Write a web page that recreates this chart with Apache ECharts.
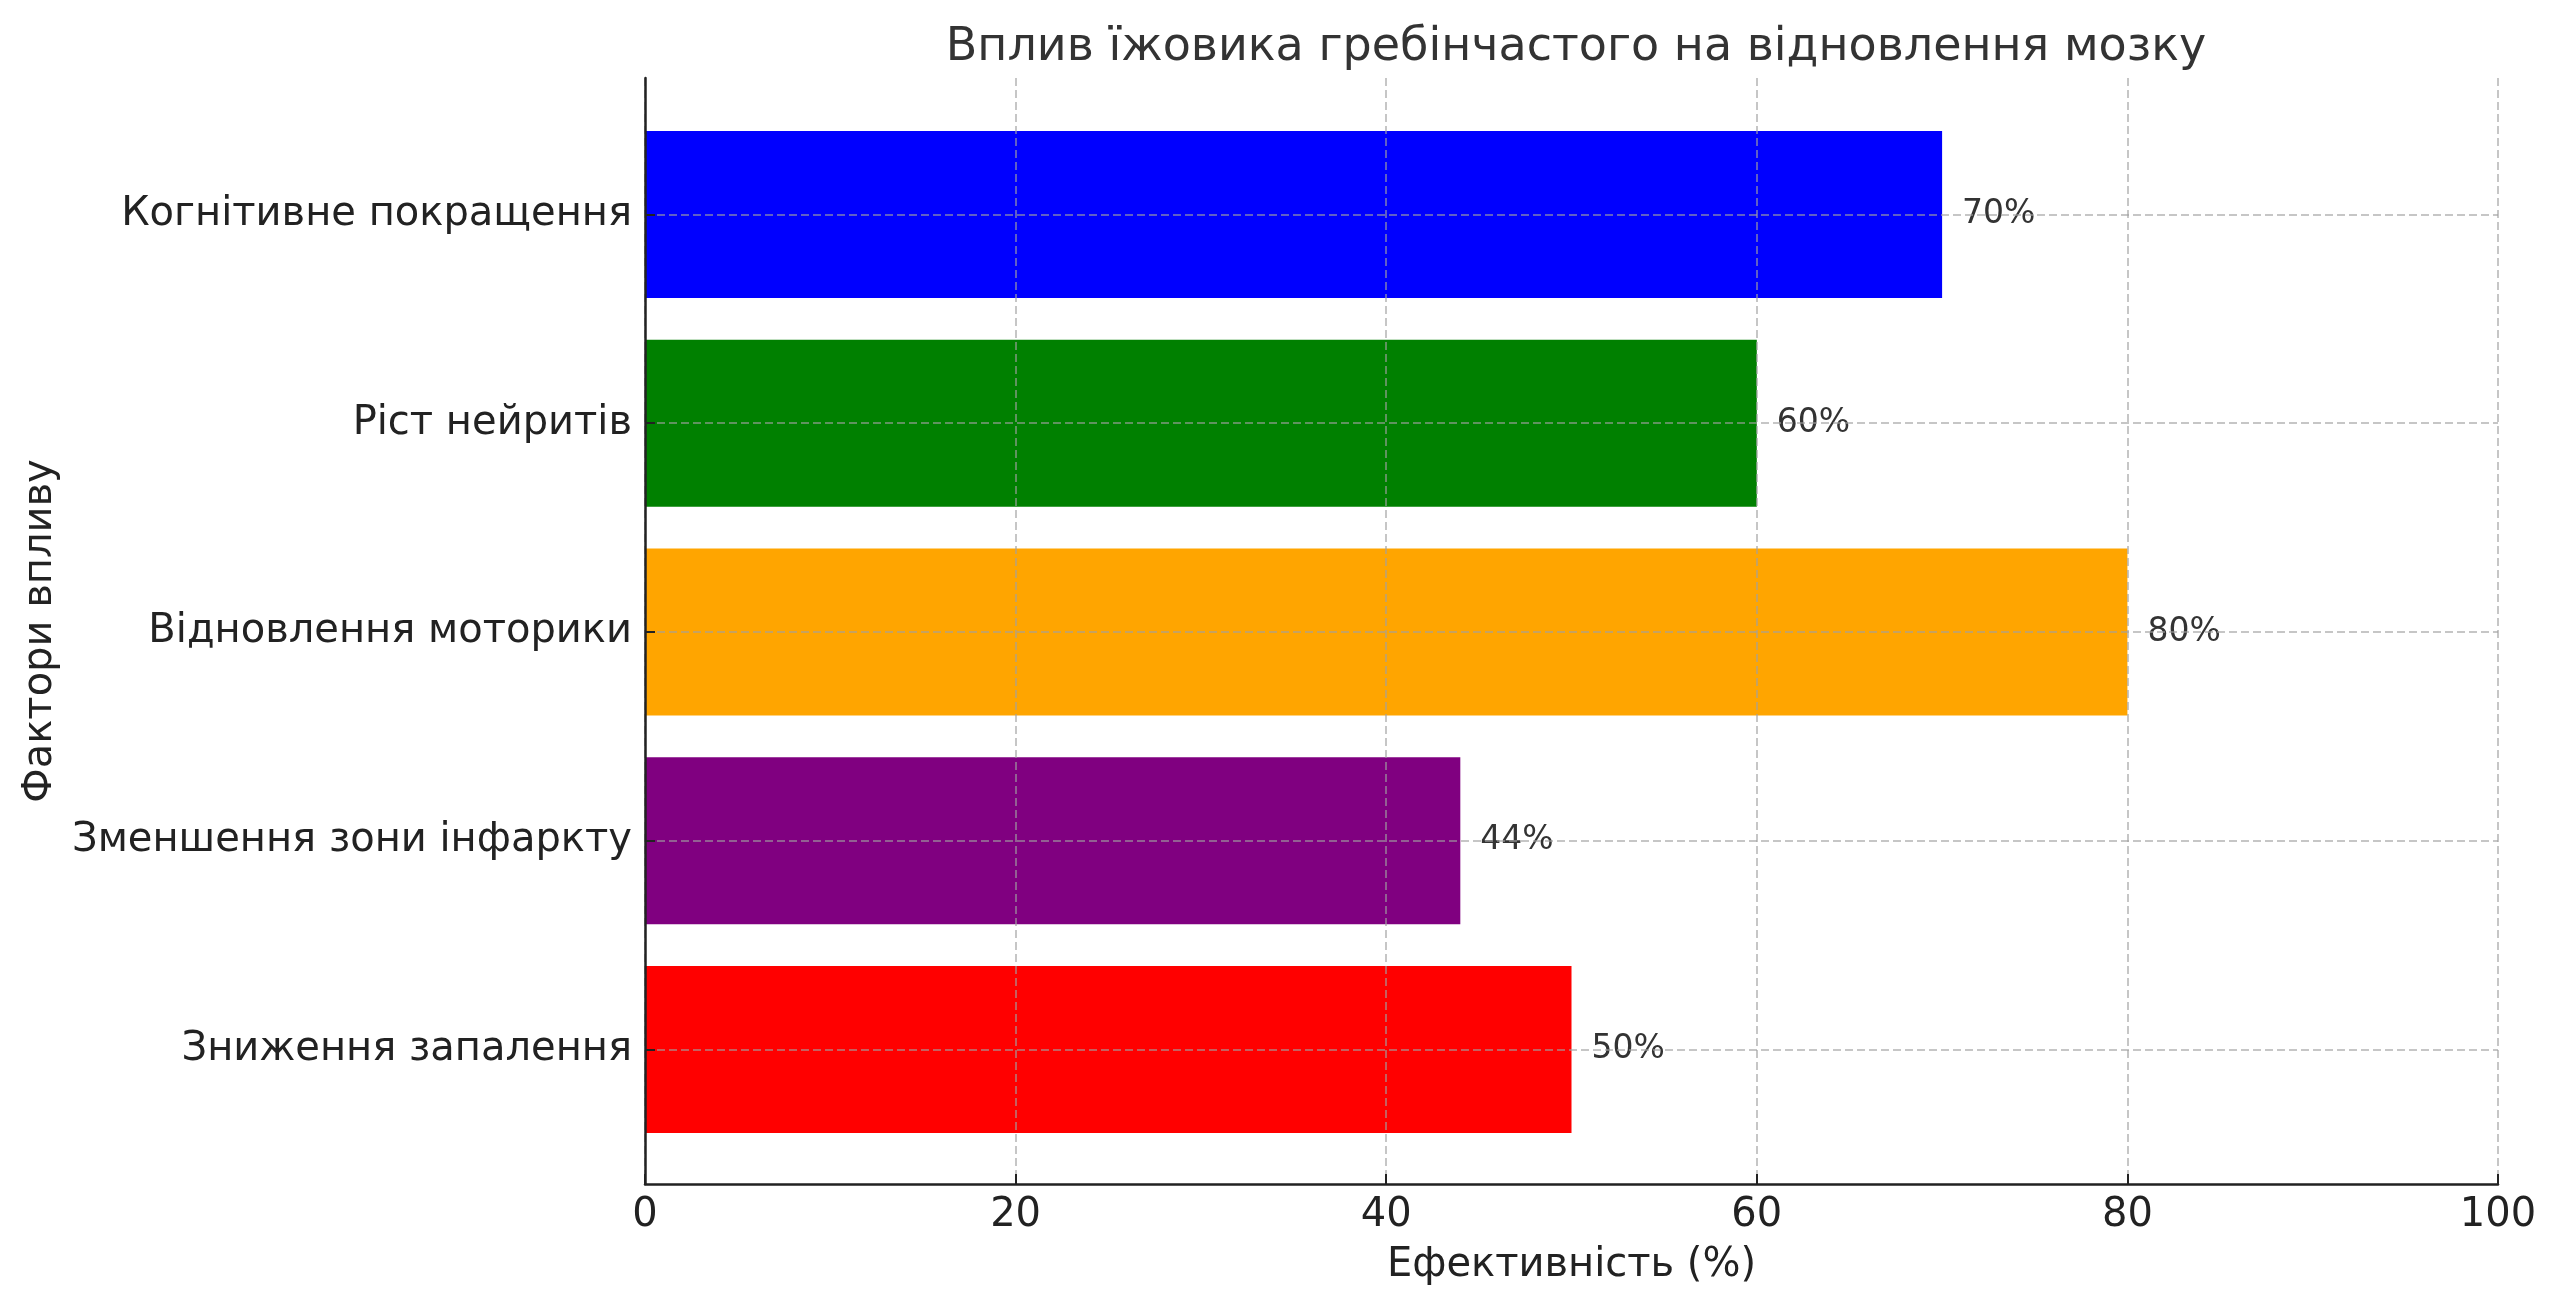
<!DOCTYPE html>
<html>
<head>
<meta charset="utf-8">
<script src="https://cdn.jsdelivr.net/npm/echarts@6/dist/echarts.min.js"></script>
<style>
  html, body { margin: 0; padding: 0; background: #fff; }
  #chart { width: 2560px; height: 1310px; }
</style>
</head>
<body>
<div id="chart"></div>
<script>
// дані (знизу вгору, як у barh)
const factors = ["Зниження запалення", "Зменшення зони інфаркту", "Відновлення моторики", "Ріст нейритів", "Когнітивне покращення"];
const effect = [50, 44, 80, 60, 70];
const barColors = ["#ff0000", "#800080", "#ffa500", "#008000", "#0000ff"];
const xTicks = [0, 20, 40, 60, 80, 100];

const font = "DejaVu Sans";
const gridLine = { show: true, lineStyle: { color: "rgba(160,160,160,0.6)", width: 2, type: [8, 4] } };

const chart = echarts.init(document.getElementById("chart"));
chart.setOption({
  animation: false,
  backgroundColor: "#fff",
  title: {
    text: "Вплив їжовика гребінчастого на відновлення мозку",
    left: 1571,
    top: 20,
    textAlign: "center",
    textStyle: { fontFamily: font, fontSize: 46, fontWeight: "normal", color: "#333" },
  },
  grid: [
    // рамка осей
    { left: 645, top: 78, width: 1853, height: 1106 },
    // смуги
    { left: 645, top: 110, width: 1853, height: 1044 },
  ],
  xAxis: [
    {
      gridIndex: 0,
      type: "value",
      min: xTicks[0],
      max: xTicks[xTicks.length - 1],
      interval: 20,
      z: 10,
      name: "Ефективність (%)",
      nameLocation: "middle",
      nameGap: 62,
      nameTextStyle: { fontFamily: font, fontSize: 40, color: "#222" },
      axisLine: { show: true, lineStyle: { color: "#222", width: 2.5 } },
      axisTick: { show: true, inside: true, length: 10, lineStyle: { color: "#222", width: 2 } },
      axisLabel: { fontFamily: font, fontSize: 40, color: "#222", margin: 12 },
      splitLine: gridLine,
    },
    {
      gridIndex: 1,
      type: "value",
      min: 0,
      max: 100,
      show: false,
    },
  ],
  yAxis: [
    {
      gridIndex: 0,
      type: "value",
      min: 0,
      max: 1,
      z: 10,
      name: "Фактори впливу",
      nameLocation: "middle",
      nameRotate: 90,
      nameGap: 584,
      nameTextStyle: { fontFamily: font, fontSize: 40, color: "#222" },
      axisLine: { show: true, lineStyle: { color: "#222", width: 2.5 } },
      axisTick: { show: false },
      axisLabel: { show: false },
      splitLine: { show: false },
    },
    {
      gridIndex: 1,
      type: "category",
      data: factors,
      z: 10,
      axisLine: { show: false },
      axisTick: { show: true, inside: true, length: 10, alignWithLabel: true, lineStyle: { color: "#222", width: 2 } },
      axisLabel: { fontFamily: font, fontSize: 40, color: "#222", margin: 13 },
      splitLine: Object.assign({ alignWithLabel: true }, gridLine),
    },
  ],
  series: [
    {
      type: "bar",
      xAxisIndex: 1,
      yAxisIndex: 1,
      barWidth: "80%",
      data: effect.map((v, i) => ({ value: v, itemStyle: { color: barColors[i] } })),
      label: {
        show: true,
        position: "right",
        distance: 20,
        formatter: (p) => p.value + "%",
        fontFamily: font,
        fontSize: 33,
        color: "#333",
      },
    },
  ],
});
</script>
</body>
</html>
